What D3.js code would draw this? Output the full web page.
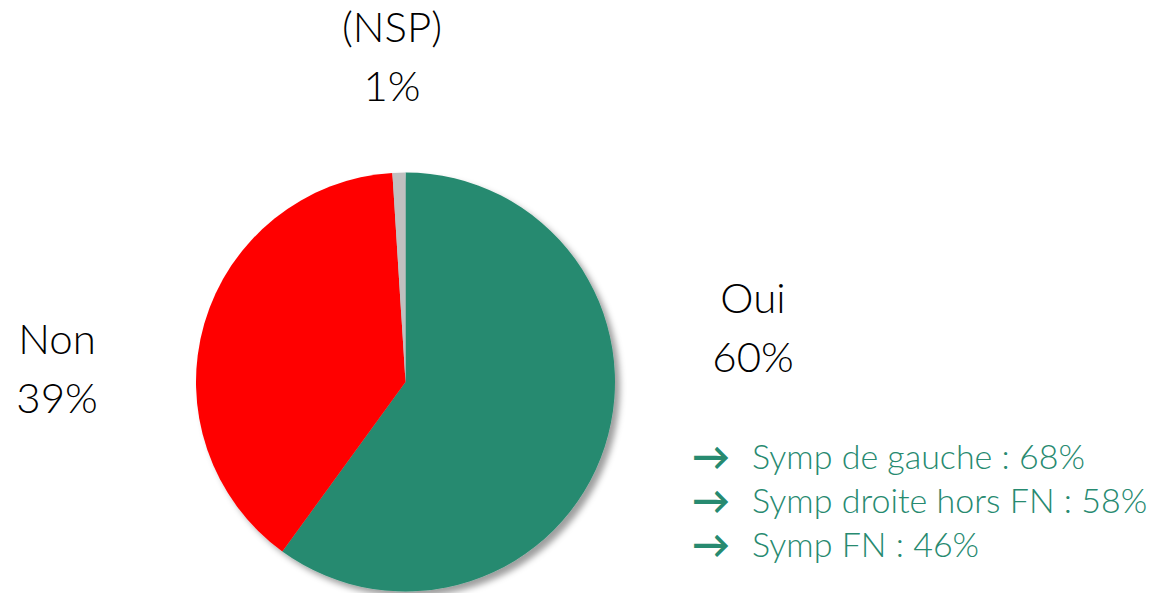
<!DOCTYPE html>
<html><head><meta charset="utf-8">
<script src="https://cdn.jsdelivr.net/npm/d3@7"></script>
<style>
html,body{margin:0;padding:0;background:#fff;}
text{font-family:Lato,"Open Sans",sans-serif;font-weight:300;}
</style></head>
<body>
<svg id="chart" width="1155" height="593"></svg>
<script>
const categories = ["Oui", "Non", "(NSP)"];
const values = [60, 39, 1];
const colors = ["#278A70", "#FF0000", "#C0C0C0"];
const subLabels = ["Symp de gauche : 68%", "Symp droite hors FN : 58%", "Symp FN : 46%"];

const svg = d3.select("#chart");
const cx = 405.5, cy = 382, r = 209.5;

const defs = svg.append("defs");
const f = defs.append("filter").attr("id","shadow").attr("x","-20%").attr("y","-20%").attr("width","140%").attr("height","140%");
f.append("feDropShadow").attr("dx",5).attr("dy",5).attr("stdDeviation",3).attr("flood-color","#000").attr("flood-opacity",0.38);

const data = categories.map((c,i)=>({cat:c, value:values[i], color:colors[i]}));
const pie = d3.pie().value(d=>d.value).sort(null).startAngle(0).endAngle(2*Math.PI);
const arc = d3.arc().innerRadius(0).outerRadius(r);

const g = svg.append("g").attr("transform",`translate(${cx},${cy})`).attr("filter","url(#shadow)");
g.selectAll("path").data(pie(data)).join("path")
  .attr("d", arc).attr("fill", d=>d.data.color);

const fmt = v => v + "%";
const labelPos = {"Oui":[753,313], "Non":[57,354], "(NSP)":[392,42]};
data.forEach(d=>{
  const [x,y] = labelPos[d.cat];
  const t = svg.append("text").attr("text-anchor","middle").attr("font-size",42).attr("fill","#000");
  t.append("tspan").attr("x",x).attr("y",y).text(d.cat);
  t.append("tspan").attr("x",x).attr("y",y+59).text(fmt(d.value));
});

const lg = svg.append("g");
subLabels.forEach((s,i)=>{
  const y = 469 + i*44;
  lg.append("text").attr("x",692).attr("y",y+1).attr("font-size",38).attr("fill","#278A70")
    .attr("font-family","DejaVu Sans").style("font-weight","bold").text("\u2192");
  lg.append("text").attr("x",752).attr("y",y).attr("font-size",34).attr("fill","#278A70").text(s);
});
</script>
</body></html>
